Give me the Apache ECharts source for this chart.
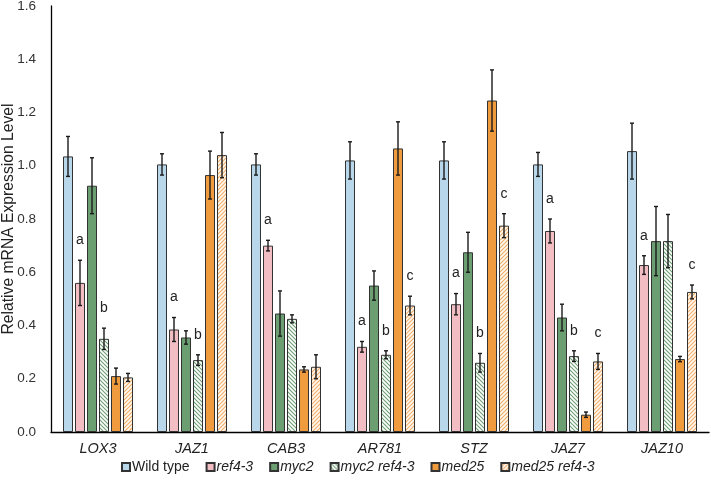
<!DOCTYPE html>
<html>
<head>
<meta charset="utf-8">
<script src="https://cdn.jsdelivr.net/npm/echarts@6/dist/echarts.min.js"></script>
<style>
  html, body { margin: 0; padding: 0; background: #fff; }
  #chart { width: 711px; height: 480px; }
</style>
</head>
<body>
<div id="chart"></div>
<script>
// genes on the x axis
const categories = ["LOX3", "JAZ1", "CAB3", "AR781", "STZ", "JAZ7", "JAZ10"];
const seriesNames = ["Wild type", "ref4-3", "myc2", "myc2 ref4-3", "med25", "med25 ref4-3"];
const yTicks = [0, 0.2, 0.4, 0.6, 0.8, 1.0, 1.2, 1.4, 1.6];

// means
const wildType = [1.035, 1.005, 1.005, 1.02, 1.02, 1.005, 1.055];
const ref43 = [0.56, 0.385, 0.70, 0.32, 0.48, 0.755, 0.627];
const myc2 = [0.925, 0.355, 0.445, 0.55, 0.675, 0.43, 0.717];
const myc2Ref43 = [0.35, 0.27, 0.425, 0.29, 0.26, 0.285, 0.717];
const med25 = [0.21, 0.965, 0.235, 1.065, 1.245, 0.065, 0.274];
const med25Ref43 = [0.205, 1.04, 0.245, 0.475, 0.775, 0.265, 0.526];

// error bar half lengths
const wildTypeErr = [0.075, 0.04, 0.04, 0.07, 0.07, 0.045, 0.105];
const ref43Err = [0.085, 0.045, 0.02, 0.02, 0.04, 0.045, 0.035];
const myc2Err = [0.105, 0.025, 0.085, 0.055, 0.075, 0.05, 0.13];
const myc2Ref43Err = [0.04, 0.02, 0.015, 0.015, 0.035, 0.02, 0.1];
const med25Err = [0.03, 0.09, 0.01, 0.1, 0.115, 0.01, 0.01];
const med25Ref43Err = [0.015, 0.085, 0.045, 0.035, 0.045, 0.03, 0.026];

// significance letters
const ref43Letters = ["a", "a", "a", "a", "a", "a", "a"];
const myc2Ref43Letters = ["b", "b", "", "b", "b", "b", ""];
const med25Ref43Letters = ["", "", "", "c", "c", "c", "c"];

const noLetters = ["", "", "", "", "", "", ""];
const means = [wildType, ref43, myc2, myc2Ref43, med25, med25Ref43];
const errs = [wildTypeErr, ref43Err, myc2Err, myc2Ref43Err, med25Err, med25Ref43Err];
const letters = [noLetters, ref43Letters, noLetters, myc2Ref43Letters, noLetters, med25Ref43Letters];

const FONT = "Arial, 'Liberation Sans', sans-serif";

// hatch pattern tiles
function hatch(bg, fg, down) {
  const s = 4;
  const c = document.createElement("canvas");
  c.width = s; c.height = s;
  const ctx = c.getContext("2d");
  ctx.fillStyle = bg;
  ctx.fillRect(0, 0, s, s);
  ctx.strokeStyle = fg;
  ctx.lineWidth = 1.1;
  ctx.beginPath();
  if (down) {
    ctx.moveTo(-1, -1); ctx.lineTo(s + 1, s + 1);
    ctx.moveTo(-1, s - 1); ctx.lineTo(1, s + 1);
    ctx.moveTo(s - 1, -1); ctx.lineTo(s + 1, 1);
  } else {
    ctx.moveTo(-1, s + 1); ctx.lineTo(s + 1, -1);
    ctx.moveTo(-1, 1); ctx.lineTo(1, -1);
    ctx.moveTo(s - 1, s + 1); ctx.lineTo(s + 1, s - 1);
  }
  ctx.stroke();
  return { image: c, repeat: "repeat" };
}

const fills = [
  "#b9d7ea",
  "#f3bdc4",
  "#6b9e70",
  hatch("#ffffff", "#6f9f74", true),
  "#f09b3d",
  hatch("#fff8ef", "#f2ae6a", false)
];

const barW = 10;
const pitch = 12;

const chart = echarts.init(document.getElementById("chart"));

const barSeries = seriesNames.map((name, k) => ({
  name: name,
  type: "bar",
  barWidth: barW,
  barGap: "20%",
  itemStyle: { color: fills[k], borderColor: "#333", borderWidth: 1 },
  data: means[k]
}));

const errSeries = seriesNames.map((name, k) => ({
  name: name + " err",
  type: "custom",
  z: 5,
  silent: true,
  data: means[k].map((v, i) => [i, v, errs[k][i]]),
  renderItem: function (params, api) {
    const i = api.value(0), v = api.value(1), e = api.value(2);
    const x = api.coord([i, 0])[0] + (k - 2.5) * pitch;
    const top = api.coord([i, v + e])[1];
    const bot = api.coord([i, v - e])[1];
    const st = { stroke: "#1a1a1a", lineWidth: 1.4 };
    const kids = [
      { type: "line", shape: { x1: x, y1: top, x2: x, y2: bot }, style: st },
      { type: "line", shape: { x1: x - 2, y1: top, x2: x + 2, y2: top }, style: st },
      { type: "line", shape: { x1: x - 2, y1: bot, x2: x + 2, y2: bot }, style: st }
    ];
    const t = letters[k][params.dataIndex];
    if (t) {
      kids.push({
        type: "text",
        style: {
          x: x, y: top - 20, text: t,
          fill: "#222", font: "14px " + FONT,
          align: "center", verticalAlign: "middle"
        }
      });
    }
    return { type: "group", children: kids };
  }
}));

chart.setOption({
  animation: false,
  backgroundColor: "#fff",
  grid: { left: 51, right: 2, top: 6, bottom: 48, containLabel: false, outerBoundsMode: "none" },
  legend: {
    data: seriesNames,
    left: 116,
    top: 455,
    icon: "rect",
    itemWidth: 8,
    itemHeight: 8,
    itemGap: 16,
    textStyle: {
      fontSize: 14,
      color: "#222",
      fontFamily: FONT,
      padding: [0, 0, 0, -3],
      rich: { i: { fontStyle: "italic", fontSize: 14, color: "#222", fontFamily: FONT } }
    },
    formatter: name => name === "Wild type" ? name : "{i|" + name + "}"
  },
  xAxis: {
    type: "category",
    data: categories,
    axisLine: { lineStyle: { color: "#000", width: 1.3 } },
    axisTick: { show: false },
    axisLabel: {
      margin: 9,
      fontSize: 14.5,
      fontStyle: "italic",
      color: "#222",
      fontFamily: FONT
    }
  },
  yAxis: {
    type: "value",
    min: yTicks[0],
    max: yTicks[yTicks.length - 1],
    interval: 0.2,
    name: "Relative mRNA Expression Level",
    nameLocation: "middle",
    nameGap: 34,
    nameMoveOverlap: false,
    nameTextStyle: { fontSize: 15.7, color: "#222", fontFamily: FONT },
    axisLine: { show: true, lineStyle: { color: "#000", width: 1.3 } },
    axisTick: { show: false },
    splitLine: { show: false },
    axisLabel: {
      margin: 15,
      fontSize: 13.5,
      color: "#333",
      fontFamily: FONT,
      formatter: v => v.toFixed(1)
    }
  },
  series: barSeries.concat(errSeries)
});
</script>
</body>
</html>
